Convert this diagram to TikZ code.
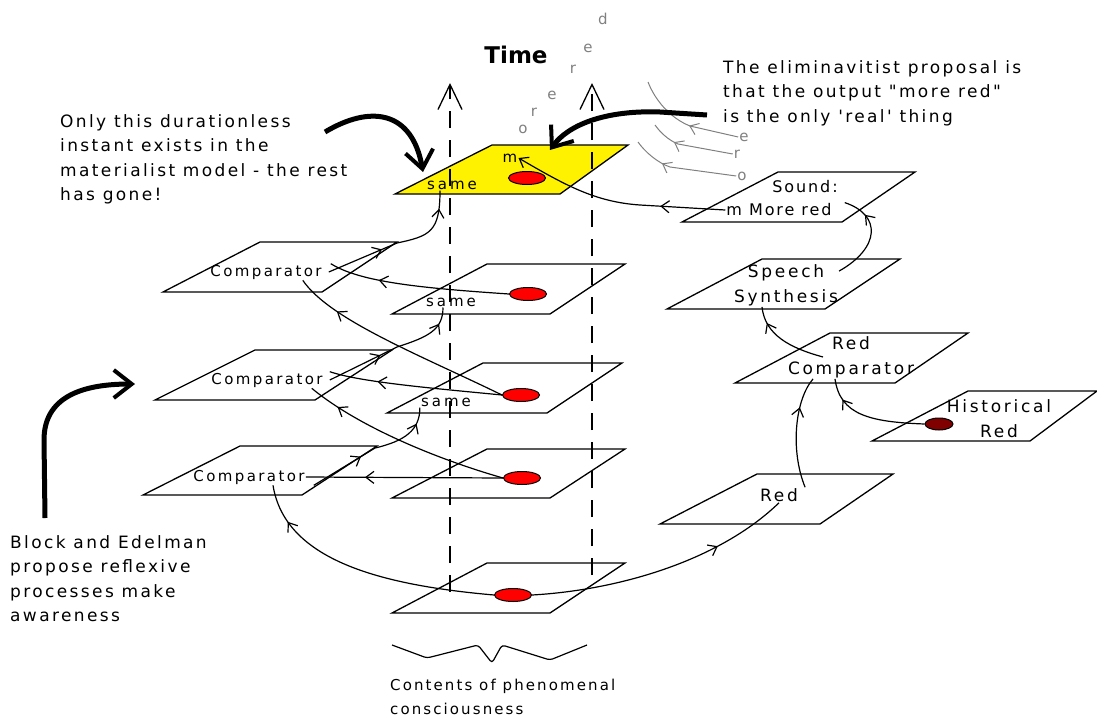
\documentclass[tikz,border=0pt]{standalone}
\usepackage{fontspec}
\newfontfamily\dvs{DejaVu Sans}
\usepackage{tikz}
\usetikzlibrary{shapes, arrows.meta, positioning, decorations.markings}
\definecolor{darkred}{RGB}{128,0,0}

\begin{document}
\begin{tikzpicture}[x=1pt, y=-1pt,
    arrowat/.style={postaction={decorate, decoration={markings,
        mark=at position #1 with {\arrow{Straight Barb[length=8pt, width=12pt]}}}}}]
    \tikzstyle{every node} = [inner sep=1pt]
    \tikzstyle{note} = [font=\dvs\fontsize{17}{24.5}\selectfont\addfontfeature{LetterSpace=14}, align=left, anchor=north west, inner sep=0pt]
    \tikzstyle{cmp} = [font=\dvs\fontsize{15}{25}\selectfont\addfontfeature{LetterSpace=16}]
    \tikzstyle{same} = [font=\dvs\fontsize{15}{25}\selectfont\addfontfeature{LetterSpace=20}]
    \tikzstyle{stage} = [font=\dvs\fontsize{17}{25}\selectfont\addfontfeature{LetterSpace=16}, align=center]
    \tikzstyle{voice} = [font=\dvs\fontsize{16}{25}\selectfont\addfontfeature{LetterSpace=12}]
    \tikzstyle{flying} = [text=gray, font=\dvs\fontsize{15}{15}\selectfont]
    \tikzstyle{plane} = [draw, line width=1.3pt]
    \tikzstyle{dot} = [ellipse, draw, line width=1pt, fill=red, minimum width=37pt, minimum height=13pt, inner sep=0pt]
    \tikzstyle{link} = [draw, line width=1.2pt]
    \tikzstyle{greyline} = [draw, gray, line width=1pt]
    \tikzstyle{timeline} = [draw, line width=1.3pt, dash pattern=on 17pt off 12pt, -{Straight Barb[length=25pt, width=24pt]}]
    \tikzstyle{heavy} = [draw, line width=5pt, -{Straight Barb[length=18pt, width=28pt, line width=4pt]}]
    \useasboundingbox (0,0) rectangle (1097,720);

    % planes of the time column
    \draw[plane, fill=yellow] (395,194) -- (560,194) -- (628,145) -- (492,145) -- cycle;
    \draw[plane] (392,314) -- (550,314) -- (625,264) -- (487,264) -- cycle;
    \draw[plane] (387,413) -- (547,413) -- (622,363) -- (483,363) -- cycle;
    \draw[plane] (392,498) -- (550,498) -- (625,449) -- (487,449) -- cycle;
    \draw[plane] (392,613) -- (550,613) -- (625,563) -- (487,563) -- cycle;
    % comparator planes
    \draw[plane] (163,292) -- (322,292) -- (397,242) -- (260,242) -- cycle;
    \draw[plane] (155,400) -- (315,400) -- (392,350) -- (255,350) -- cycle;
    \draw[plane] (143,495) -- (302,495) -- (377,446) -- (240,446) -- cycle;
    % speech planes
    \draw[plane] (682,222) -- (842,222) -- (915,172) -- (778,172) -- cycle;
    \draw[plane] (667,309) -- (825,309) -- (900,259) -- (762,259) -- cycle;
    \draw[plane] (735,383) -- (895,383) -- (968,333) -- (830,333) -- cycle;
    \draw[plane] (872,441) -- (1030,441) -- (1097,391) -- (968,391) -- cycle;
    \draw[plane] (660,524) -- (820,524) -- (893,474) -- (757,474) -- cycle;

    % time axes
    \coordinate (axisL) at (450,592);
    \coordinate (axisLtop) at (450,83);
    \coordinate (axisR) at (592,575);
    \coordinate (axisRtop) at (592,83);
    \draw[timeline] (axisL) -- (axisLtop);
    \draw[timeline] (axisR) -- (axisRtop);
    \node[font=\dvs\bfseries\fontsize{23}{23}\selectfont] (time) at (516,55) {Time};

    % place nodes
    \node[same] (sameA) at (452,185) {same};
    \node[same] (mA) at (510,158) {m};
    \node[dot] (dotA) at (527,178) {};
    \node[same] (sameB) at (451,302) {same};
    \node[dot] (dotB) at (528,294) {};
    \node[same] (sameC) at (446,402) {same};
    \node[dot] (dotC) at (521,395) {};
    \node[dot] (dotD) at (522,478) {};
    \node[dot] (dotE) at (513,595) {};
    \node[cmp] (cmpA) at (266,272) {Comparator};
    \node[cmp] (cmpB) at (267,380) {Comparator};
    \node[cmp] (cmpC) at (249,477) {Comparator};
    \node[voice] (soundA) at (805,187) {Sound:};
    \node[voice] (moreRed) at (779,210) {m More red};
    \node[stage] (speech) at (786,285) {Speech\\Synthesis};
    \node[stage] (redcmp) at (851,357) {Red\\Comparator};
    \node[stage] (hist) at (999,419) {Historical\\Red};
    \node[stage] (red) at (779,495) {Red};
    \node[dot, fill=darkred, minimum width=28pt, minimum height=12pt] (histDot) at (939,424) {};

    % flying letters
    \node[flying] (fo) at (523,129) {o};
    \node[flying] (fr) at (534,112) {r};
    \node[flying] (fe) at (552,95) {e};
    \node[flying] (fr2) at (573,69) {r};
    \node[flying] (fe2) at (588,48) {e};
    \node[flying] (fd) at (603,19) {d};
    \node[flying] (flyE) at (744,137) {e};
    \node[flying] (flyR) at (737,154) {r};
    \node[flying] (flyO) at (742,176) {o};
    \coordinate (goneE) at (648,82);
    \coordinate (goneR) at (655,125);
    \coordinate (goneO) at (638,142);
    \draw[greyline, arrowat=0.45] (flyE.west) -- (690,126) .. controls (670,118) and (655,100) .. (goneE);
    \draw[greyline, arrowat=0.7] (flyR.west) -- (678,144) .. controls (668,140) and (660,132) .. (goneR);
    \draw[greyline, arrowat=0.7] (flyO.west) -- (670,167) .. controls (658,163) and (645,152) .. (goneO);

    % Connections: inputs of the comparators
    \draw[link, arrowat=0.72] (dotB.west) .. controls (420,288) and (360,282) .. ([xshift=8pt]cmpA.north east);
    \draw[link, arrowat=0.8] (dotC.west) .. controls (420,355) and (330,320) .. ([xshift=-20pt]cmpA.south east);
    \draw[link, arrowat=0.72] (dotC.west) .. controls (430,388) and (360,382) .. ([xshift=6pt]cmpB.north east);
    \draw[link, arrowat=0.85] (dotD.west) .. controls (440,460) and (360,428) .. ([xshift=-12pt]cmpB.south east);
    \draw[link, arrowat=0.7] (dotD.west) -- (cmpC.east);
    \draw[link, arrowat=0.85] (dotE.west) .. controls (380,585) and (285,560) .. ([xshift=24pt]cmpC.south);
    % Connections: outputs of the comparators
    \draw[link, arrowat=0.38, arrowat=0.88] ([xshift=6pt]cmpA.east) -- (397,243) .. controls (430,236) and (440,232) .. ([xshift=-12pt]sameA.south);
    \draw[link, arrowat=0.4, arrowat=0.88] ([xshift=6pt]cmpB.east) -- (397,347) .. controls (428,337) and (443,330) .. ([xshift=-8pt]sameB.south);
    \draw[link, arrowat=0.4, arrowat=0.88] ([xshift=8pt]cmpC.south east) -- (375,448) .. controls (405,441) and (420,430) .. (sameC.south west);
    % Connections: speech chain
    \draw[link, arrowat=0.72] (dotE.east) .. controls (620,590) and (720,560) .. (red.south);
    \draw[link, arrowat=0.72] ([xshift=6pt]red.north east) .. controls (790,450) and (795,400) .. ([xshift=-38pt]redcmp.south);
    \draw[link, arrowat=0.8] (histDot.west) .. controls (870,422) and (840,415) .. ([xshift=-16pt]redcmp.south);
    \draw[link, arrowat=0.8] ([xshift=-28pt]redcmp.center) .. controls (790,348) and (765,335) .. ([xshift=-24pt]speech.south);
    \draw[link, arrowat=0.75] ([yshift=-8pt]speech.north east) .. controls (880,248) and (882,215) .. ([xshift=12pt]moreRed.north east);
    \draw[link, arrowat=0.3, -{Straight Barb[length=8pt, width=12pt]}] (moreRed.west) -- (640,205) .. controls (595,202) and (565,185) .. (mA.east);

    % brace
    \draw[line width=1.2pt, rounded corners=3pt] (392,645) -- (427,658) -- (478,645) -- (492,663) -- (502,645) -- (550,660) -- (587,645);

    % notes
    \node[note] (onlyNote) at (60,114) {Only this durationless\\instant exists in the\\materialist model - the rest\\has gone!};
    \node[note] (elimNote) at (723,60) {The eliminavitist proposal is\\that the output "more red"\\is the only 'real' thing};
    \node[note] (blockNote) at (10,535) {Block and Edelman\\propose reflexive\\processes make\\awareness};
    \node[note, font=\dvs\fontsize{15}{24}\selectfont\addfontfeature{LetterSpace=14}] (contents) at (390,679) {Contents of phenomenal\\consciousness};
    \coordinate (onlyFrom) at (325,132);
    \coordinate (onlyTo) at (423,172);
    \coordinate (elimFrom) at (707,115);
    \coordinate (elimTo) at (550,150);
    \coordinate (blockFrom) at (45,518);
    \coordinate (blockTo) at (135,384);
    \draw[heavy] (onlyFrom) .. controls (370,105) and (412,110) .. (onlyTo);
    \draw[heavy] (elimFrom) -- (660,112) .. controls (605,110) and (568,125) .. (elimTo);
    \draw[heavy] (blockFrom) -- (44,440) .. controls (44,398) and (80,384) .. (blockTo);
\end{tikzpicture}
\end{document}
